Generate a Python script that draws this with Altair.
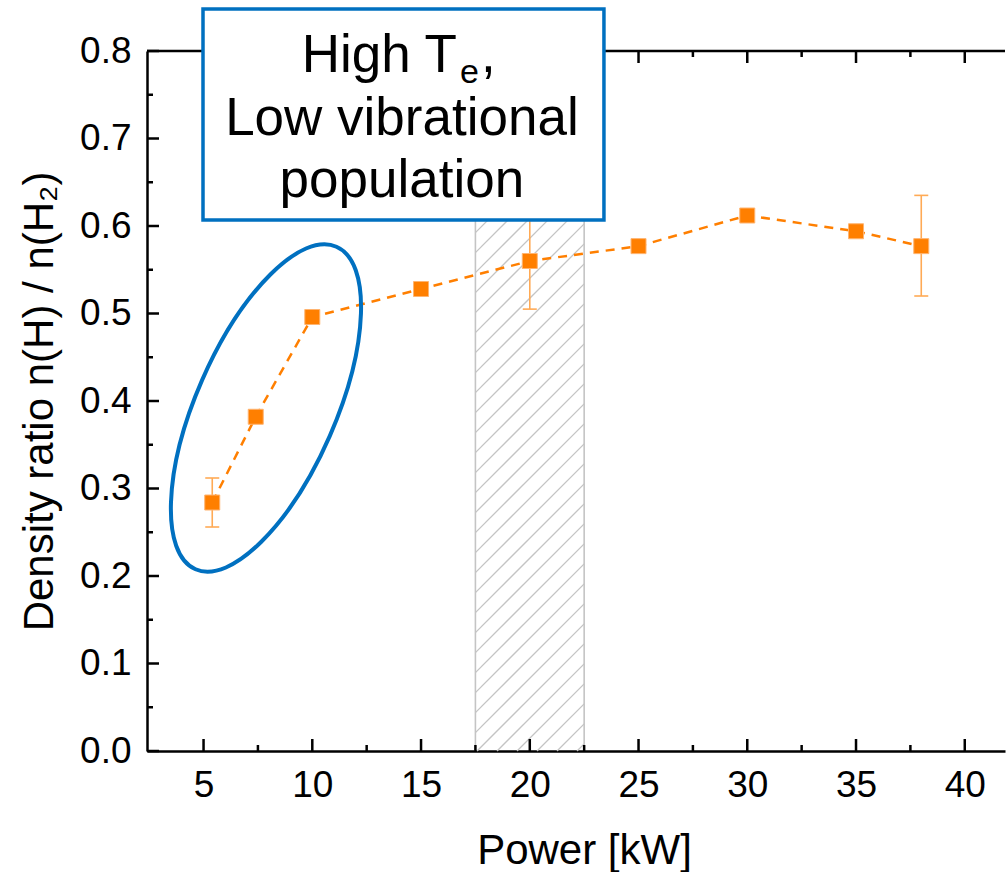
import altair as alt
import numpy as np
import pandas as pd

# ---- measured series -------------------------------------------------------
power_kw = [5.4, 7.4, 10, 15, 20, 25, 30, 35, 38]
density_ratio = [0.284, 0.382, 0.496, 0.528, 0.560, 0.577, 0.612, 0.594, 0.577]

err_power = [5.4, 20, 38]
err_low = [0.256, 0.505, 0.520]
err_high = [0.312, 0.615, 0.635]

# ---- axes ------------------------------------------------------------------
x_major = [5, 10, 15, 20, 25, 30, 35, 40]
x_minor = [7.5, 12.5, 17.5, 22.5, 27.5, 32.5, 37.5]
y_major = [0.0, 0.1, 0.2, 0.3, 0.4, 0.5, 0.6, 0.7, 0.8]
y_minor = [0.05, 0.15, 0.25, 0.35, 0.45, 0.55, 0.65, 0.75]

X_DOMAIN = [2.4, 41.85]
Y_DOMAIN = [0.0, 0.8]
W, H = 858, 700

# shaded power window
band_lo, band_hi = 17.5, 22.5

# annotation: ellipse around the low-power points, text box
ellipse_center = (7.87, 0.392)
box_x = (4.975, 23.41)
box_y = (0.607, 0.848)
box_text_x = 14.12
box_line_y = [0.776, 0.704, 0.633]

FONT = "Liberation Sans"
ORANGE = "#FF7F00"
ORANGE_LIGHT = "#FFAA55"
BLUE = "#0070C0"
GREY = "#C4C4C4"

xs = alt.Scale(domain=X_DOMAIN, nice=False, zero=False)
ys = alt.Scale(domain=Y_DOMAIN, nice=False, zero=False)

x_axis = alt.Axis(
    values=x_major, format="d", ticks=False, tickSize=0, grid=False,
    domainColor="black", domainWidth=2.5,
    labelFont=FONT, labelFontSize=37, labelColor="black", labelPadding=16,
    labelFlush=False, labelOverlap=False,
    title="Power [kW]", titleFont=FONT, titleFontSize=42, titleFontWeight="normal",
    titleColor="black", titleX=437, titleY=112, titleBaseline="alphabetic",
    titleAlign="center",
)
y_axis = alt.Axis(
    values=y_major, format=".1f", ticks=False, tickSize=0, grid=False,
    domainColor="black", domainWidth=2.5,
    labelFont=FONT, labelFontSize=37, labelColor="black", labelPadding=16,
    labelFlush=False, labelOverlap=False,
    title="Density ratio n(H) / n(H\u2082)", titleFont=FONT, titleFontSize=42,
    titleFontWeight="normal", titleColor="black", titleAngle=270,
    titleX=-95, titleY=350, titleBaseline="alphabetic", titleAlign="center",
)


def X(field):
    return alt.X(field, type="quantitative", scale=xs, axis=x_axis)


def Y(field):
    return alt.Y(field, type="quantitative", scale=ys, axis=y_axis)


series = pd.DataFrame({"power": power_kw, "ratio": density_ratio})
errs = pd.DataFrame({"power": err_power, "lo": err_low, "hi": err_high})

# ---- hatched band: 45-degree strokes clipped to the band rectangle ---------
span_x = X_DOMAIN[1] - X_DOMAIN[0]
span_y = Y_DOMAIN[1] - Y_DOMAIN[0]
bl_px = (band_lo - X_DOMAIN[0]) / span_x * W
bh_px = (band_hi - X_DOMAIN[0]) / span_x * W
spacing = 20.0
c_vals = np.arange(H + bl_px + 1.6 - 40 * spacing, bh_px + H, spacing)
c_vals = c_vals[c_vals > bl_px]
seg = []
for c in c_vals:
    xa = max(bl_px, c - H)
    xb = min(bh_px, c)
    if xb <= xa:
        continue
    seg.append({
        "x": X_DOMAIN[0] + xa / W * span_x,
        "x2": X_DOMAIN[0] + xb / W * span_x,
        "y": Y_DOMAIN[1] - (c - xa) / H * span_y,
        "y2": Y_DOMAIN[1] - (c - xb) / H * span_y,
    })
hatch_df = pd.DataFrame(seg)

hatch = alt.Chart(hatch_df).mark_rule(color=GREY, strokeWidth=1.3).encode(
    x=X("x"), x2="x2", y=Y("y"), y2="y2"
)

band_df = pd.DataFrame({"x": [band_lo, band_hi]})
band_edges = alt.Chart(band_df).mark_rule(color=GREY, strokeWidth=1.6).encode(
    x=X("x"), y=alt.value(0), y2=alt.value(H)
)

# ---- axis ticks (inward) and top frame line --------------------------------
xt_major = alt.Chart(pd.DataFrame({"v": x_major})).mark_rule(
    color="black", strokeWidth=2.5
).encode(x=X("v"), y=alt.value(H), y2=alt.value(H - 12))
xt_minor = alt.Chart(pd.DataFrame({"v": x_minor})).mark_rule(
    color="black", strokeWidth=2.5
).encode(x=X("v"), y=alt.value(H), y2=alt.value(H - 6))
xt_major_top = alt.Chart(pd.DataFrame({"v": x_major})).mark_rule(
    color="black", strokeWidth=2.5
).encode(x=X("v"), y=alt.value(0), y2=alt.value(12))
xt_minor_top = alt.Chart(pd.DataFrame({"v": x_minor})).mark_rule(
    color="black", strokeWidth=2.5
).encode(x=X("v"), y=alt.value(0), y2=alt.value(6))
yt_major = alt.Chart(pd.DataFrame({"v": y_major})).mark_rule(
    color="black", strokeWidth=2.5
).encode(y=Y("v"), x=alt.value(0), x2=alt.value(12))
yt_minor = alt.Chart(pd.DataFrame({"v": y_minor})).mark_rule(
    color="black", strokeWidth=2.5
).encode(y=Y("v"), x=alt.value(0), x2=alt.value(6))
top_line = alt.Chart(pd.DataFrame({"v": [0]})).mark_rule(
    color="black", strokeWidth=2.5
).encode(x=alt.value(0), x2=alt.value(W), y=alt.value(0))

# ---- data ------------------------------------------------------------------
line = alt.Chart(series).mark_line(
    color=ORANGE, strokeWidth=2.5, strokeDash=[9, 7]
).encode(x=X("power"), y=Y("ratio"))

err_rule = alt.Chart(errs).mark_rule(color=ORANGE_LIGHT, strokeWidth=1.6).encode(
    x=X("power"), y=Y("lo"), y2="hi"
)
cap_lo = alt.Chart(errs).mark_tick(
    color=ORANGE_LIGHT, thickness=1.6, size=14, orient="horizontal", opacity=1
).encode(x=X("power"), y=Y("lo"))
cap_hi = alt.Chart(errs).mark_tick(
    color=ORANGE_LIGHT, thickness=1.6, size=14, orient="horizontal", opacity=1
).encode(x=X("power"), y=Y("hi"))

points = alt.Chart(series).mark_point(
    shape="square", filled=True, size=225, color=ORANGE, opacity=1,
    stroke="#FFB470", strokeWidth=1
).encode(x=X("power"), y=Y("ratio"))

# ---- annotations -----------------------------------------------------------
ell_df = pd.DataFrame({"x": [ellipse_center[0]], "y": [ellipse_center[1]]})
ellipse = alt.Chart(ell_df).mark_point(
    shape="M -1 0 A 1 0.396 0 1 1 1 0 A 1 0.396 0 1 1 -1 0 Z",
    size=352 ** 2, angle=113.6, filled=False, stroke=BLUE, strokeWidth=4,
    opacity=1,
).encode(x=X("x"), y=Y("y"))

box_df = pd.DataFrame({"x": [box_x[0]], "x2": [box_x[1]],
                       "y": [box_y[0]], "y2": [box_y[1]]})
box = alt.Chart(box_df).mark_rect(
    fill="white", stroke=BLUE, strokeWidth=3.5
).encode(x=X("x"), x2="x2", y=Y("y"), y2="y2")

txt = pd.DataFrame({"x": [box_text_x] * 3, "y": box_line_y,
                    "t": ["High T", "Low vibrational", "population"]})
txt_head = alt.Chart(txt.iloc[:1]).mark_text(
    font=FONT, fontSize=53, align="right", baseline="alphabetic",
    color="black", dx=55
).encode(x=X("x"), y=Y("y"), text="t:N")
txt_sub = alt.Chart(txt.iloc[:1]).mark_text(
    font=FONT, fontSize=34, align="left", baseline="alphabetic",
    color="black", dx=58, dy=11, text="e"
).encode(x=X("x"), y=Y("y"))
txt_comma = alt.Chart(txt.iloc[:1]).mark_text(
    font=FONT, fontSize=53, align="left", baseline="alphabetic",
    color="black", dx=79, text=","
).encode(x=X("x"), y=Y("y"))
txt_body = alt.Chart(txt.iloc[1:]).mark_text(
    font=FONT, fontSize=53, align="center", baseline="alphabetic", color="black"
).encode(x=X("x"), y=Y("y"), text="t:N")

chart = alt.layer(
    hatch, band_edges,
    xt_major, xt_minor, xt_major_top, xt_minor_top, yt_major, yt_minor, top_line,
    line, err_rule, cap_lo, cap_hi, points,
    ellipse, box, txt_head, txt_sub, txt_comma, txt_body,
).properties(
    width=W, height=H,
    autosize=alt.AutoSizeParams(type="none"),
    padding={"left": 147, "top": 51, "right": 1, "bottom": 121},
    background="white",
).configure_view(strokeOpacity=0)

chart.save("out.html", embed_options={"renderer": "svg", "actions": False})
